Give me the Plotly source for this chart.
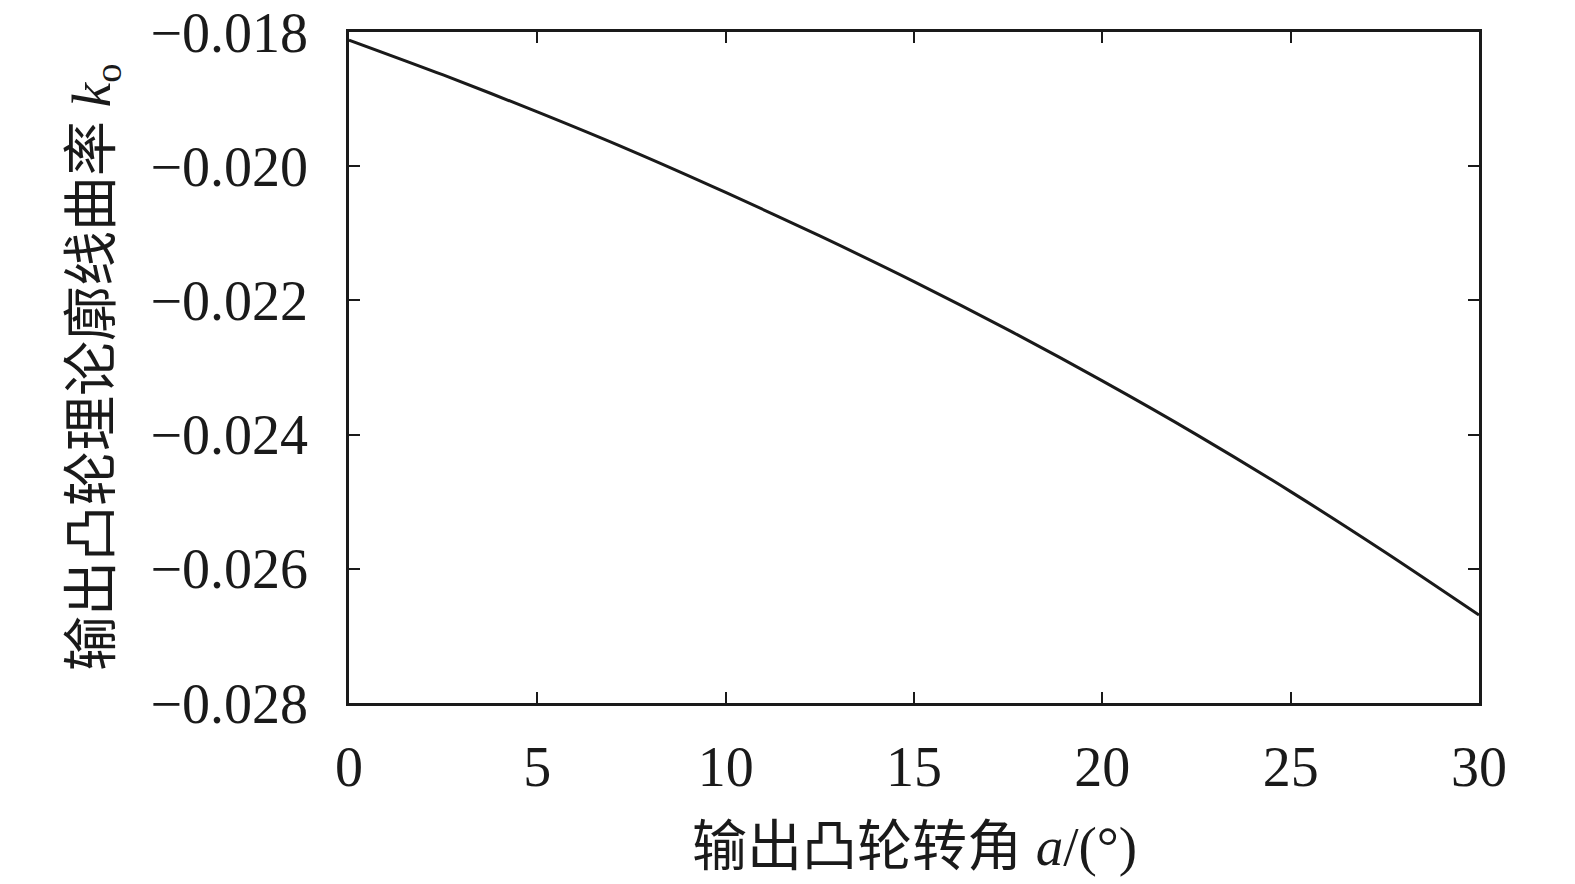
import plotly.graph_objects as go

angle_deg = [0, 2.5, 5, 7.5, 10, 12.5, 15, 17.5, 20, 22.5, 25, 27.5, 30]
curvature = [-0.01812, -0.01864, -0.01919, -0.01977, -0.02039, -0.02104, -0.02172,
             -0.02244, -0.02320, -0.02400, -0.02485, -0.02575, -0.02669]

x_ticks = [0, 5, 10, 15, 20, 25, 30]
y_ticks = [-0.018, -0.020, -0.022, -0.024, -0.026, -0.028]
y_tick_text = ["\u22120.018", "\u22120.020", "\u22120.022", "\u22120.024", "\u22120.026", "\u22120.028"]

FONT = "Liberation Serif, Times New Roman, Noto Sans CJK SC, serif"

fig = go.Figure()
fig.add_trace(go.Scatter(x=angle_deg, y=curvature, mode="lines",
                         line=dict(color="#1a1a1a", width=3, shape="spline", smoothing=0.8),
                         showlegend=False))

axis_common = dict(showline=True, linecolor="#1a1a1a", linewidth=2.5, mirror="ticks",
                   ticks="inside", ticklen=11, tickwidth=2, tickcolor="#1a1a1a",
                   showgrid=False, zeroline=False, automargin=False,
                   tickfont=dict(family=FONT, size=56, color="#1a1a1a"))

fig.update_xaxes(range=[0, 30], tickvals=x_ticks, ticklabelstandoff=13, **axis_common)
fig.update_yaxes(range=[-0.028, -0.018], tickvals=y_ticks, ticktext=y_tick_text,
                 ticklabelstandoff=27, **axis_common)

fig.add_annotation(xref="paper", yref="paper", x=0.5, y=-0.2146, yanchor="middle",
                   text="输出凸轮转角 <i>a</i>/(°)", showarrow=False,
                   font=dict(family=FONT, size=55, color="#1a1a1a"))
fig.add_annotation(xref="paper", yref="paper", x=-0.2244, y=0.5, xanchor="center",
                   text="输出凸轮理论廓线曲率 <i>k</i><sub>o</sub>", showarrow=False, textangle=-90,
                   font=dict(family=FONT, size=55, color="#1a1a1a"))

fig.update_layout(width=1575, height=884, plot_bgcolor="white", paper_bgcolor="white",
                  margin=dict(l=349, r=96, t=32, b=181), font=dict(family=FONT))

fig.write_html("out.html", config={"displayModeBar": False},
               post_script="document.body.style.margin='0';document.body.style.overflow='hidden';")
